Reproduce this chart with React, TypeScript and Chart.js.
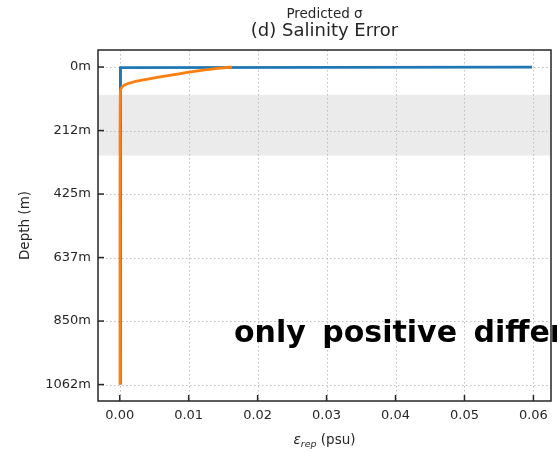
import React, { useEffect, useRef } from "react";
import { Chart, registerables } from "chart.js";

Chart.register(...registerables);

// Depth levels (m)
const depths = [0, 2, 5, 10, 20, 30, 40, 50, 60, 70, 80, 100, 150, 200, 300, 500, 800, 1062];
// Predicted sigma (psu) – blue
const sigmaPred = [0.0598, 0.00012, 0.0001, 0.0001, 0.0001, 0.0001, 0.0001, 0.0001, 0.0001, 0.0001, 0.0001, 0.0001, 0.0001, 0.0001, 0.0001, 0.0001, 0.0001, 0.0001];
// Representation error (psu) – orange
const errRep = [0.0163, 0.0153, 0.0139, 0.0121, 0.0092, 0.0065, 0.0041, 0.0020, 0.0007, 0.00025, 0.00012, 0.00008, 0.00006, 0.00005, 0.00005, 0.00004, 0.00004, 0.00004];

const depthTicks = [0, 212.4, 424.8, 637.2, 849.6, 1062];
const valueTicks = [0, 0.01, 0.02, 0.03, 0.04, 0.05, 0.06];
const bandRange = [93, 296];

const suptitle = "Predicted σ";
const title = "(d) Salinity Error";
const yTitle = "Depth (m)";
const overlayText = "only positive differences";

const FONT = "'DejaVu Sans', sans-serif";
const DARK = "#262626";

const decorPlugin = {
  id: "decor",
  beforeDatasetsDraw(chart: any) {
    const { ctx, chartArea: a, scales } = chart;
    const x = scales.x, y = scales.y;
    ctx.save();
    // band
    ctx.fillStyle = "#ebebeb";
    const y0 = y.getPixelForValue(bandRange[0]);
    const y1 = y.getPixelForValue(bandRange[1]);
    ctx.fillRect(a.left, y0, a.right - a.left, y1 - y0);
    // grid
    ctx.strokeStyle = "#bdbdbd";
    ctx.lineWidth = 1;
    ctx.setLineDash([1.5, 2.5]);
    valueTicks.forEach((v) => {
      const px = Math.round(x.getPixelForValue(v)) + 0.5;
      ctx.beginPath();
      ctx.moveTo(px, a.top);
      ctx.lineTo(px, a.bottom);
      ctx.stroke();
    });
    depthTicks.forEach((v) => {
      const py = Math.round(y.getPixelForValue(v)) + 0.5;
      ctx.beginPath();
      ctx.moveTo(a.left, py);
      ctx.lineTo(a.right, py);
      ctx.stroke();
    });
    ctx.restore();
  },
  afterDraw(chart: any) {
    const { ctx, chartArea: a, scales } = chart;
    const x = scales.x, y = scales.y;
    ctx.save();
    // overlay text (clipped like the source image)
    ctx.save();
    ctx.beginPath();
    ctx.rect(0, 0, 557, 452);
    ctx.clip();
    ctx.fillStyle = "#000";
    ctx.font = "700 30px 'DejaVu Sans', sans-serif";
    (ctx as any).wordSpacing = "6px";
    ctx.textAlign = "left";
    ctx.textBaseline = "alphabetic";
    ctx.fillText(overlayText, 234, 341.5);
    (ctx as any).wordSpacing = "0px";
    ctx.restore();
    // spines
    ctx.strokeStyle = DARK;
    ctx.lineWidth = 1.5;
    ctx.setLineDash([]);
    ctx.strokeRect(a.left, a.top, a.right - a.left, a.bottom - a.top);
    // inward ticks
    valueTicks.forEach((v) => {
      const px = x.getPixelForValue(v);
      ctx.beginPath();
      ctx.moveTo(px, a.bottom);
      ctx.lineTo(px, a.bottom - 6);
      ctx.stroke();
    });
    depthTicks.forEach((v) => {
      const py = y.getPixelForValue(v);
      ctx.beginPath();
      ctx.moveTo(a.left, py);
      ctx.lineTo(a.left + 6, py);
      ctx.stroke();
    });
    // titles
    const cx = (a.left + a.right) / 2;
    ctx.fillStyle = DARK;
    ctx.textAlign = "center";
    ctx.font = `13.5px ${FONT}`;
    ctx.fillText(suptitle, cx, 18);
    ctx.font = `18px ${FONT}`;
    ctx.fillText(title, cx, 36);
    // y title
    ctx.save();
    ctx.translate(25, (a.top + a.bottom) / 2);
    ctx.rotate(-Math.PI / 2);
    ctx.textBaseline = "middle";
    ctx.font = `13.5px ${FONT}`;
    ctx.fillText(yTitle, 0, 0);
    ctx.restore();
    // x title with subscript
    const parts = [
      { t: "ε", f: `italic 13.5px ${FONT}`, dy: 0 },
      { t: "rep", f: `italic 9.5px ${FONT}`, dy: 3 },
      { t: " (psu)", f: `13.5px ${FONT}`, dy: 0 },
    ];
    let total = 0;
    parts.forEach((p) => {
      ctx.font = p.f;
      total += ctx.measureText(p.t).width;
    });
    let sx = cx - total / 2;
    ctx.textAlign = "left";
    ctx.textBaseline = "alphabetic";
    parts.forEach((p) => {
      ctx.font = p.f;
      ctx.fillText(p.t, sx, 444 + p.dy);
      sx += ctx.measureText(p.t).width;
    });
    ctx.restore();
  },
};

export default function App() {
  const ref = useRef<HTMLCanvasElement>(null);
  useEffect(() => {
    const canvas = ref.current;
    if (!canvas) return;
    const chart = new Chart(canvas, {
      type: "scatter",
      data: {
        datasets: [
          {
            label: "Predicted σ",
            data: depths.map((d, i) => ({ x: sigmaPred[i], y: d })),
            borderColor: "#1f77b4",
            backgroundColor: "#1f77b4",
            borderWidth: 2.8,
            showLine: true,
            pointRadius: 0,
            tension: 0,
            order: 2,
          },
          {
            label: "ε_rep",
            data: depths.map((d, i) => ({ x: errRep[i], y: d })),
            borderColor: "#ff7f0e",
            backgroundColor: "#ff7f0e",
            borderWidth: 2.8,
            showLine: true,
            pointRadius: 0,
            cubicInterpolationMode: "monotone",
            order: 1,
          },
        ],
      },
      options: {
        animation: false,
        responsive: false,
        devicePixelRatio: 1,
        layout: { padding: { left: 0, top: 50, right: 9, bottom: 0 } },
        plugins: { legend: { display: false }, title: { display: false }, tooltip: { enabled: false } },
        scales: {
          x: {
            type: "linear",
            min: -0.00315,
            max: 0.06255,
            afterBuildTicks: (s: any) => {
              s.ticks = valueTicks.map((v) => ({ value: v }));
            },
            afterFit: (s: any) => {
              s.height = 51;
            },
            grid: { display: false, drawTicks: false },
            border: { display: false },
            ticks: {
              padding: 7,
              color: DARK,
              font: { family: "DejaVu Sans", size: 13 },
              callback: (v: any) => Number(v).toFixed(2),
            },
          },
          y: {
            type: "linear",
            reverse: true,
            min: -57,
            max: 1117,
            afterBuildTicks: (s: any) => {
              s.ticks = depthTicks.map((v) => ({ value: v }));
            },
            afterFit: (s: any) => {
              s.width = 98;
            },
            grid: { display: false, drawTicks: false },
            border: { display: false },
            ticks: {
              padding: 7,
              color: DARK,
              font: { family: "DejaVu Sans", size: 13 },
              callback: (v: any) => Math.round(Number(v)) + "m",
            },
          },
        },
      },
      plugins: [decorPlugin],
    });
    return () => chart.destroy();
  }, []);
  return (
    <div style={{ position: "fixed", left: 0, top: 0, width: 560, height: 452, background: "#fff", overflow: "hidden" }}>
      <canvas ref={ref} width={560} height={452} style={{ display: "block", width: 560, height: 452 }} />
    </div>
  );
}
